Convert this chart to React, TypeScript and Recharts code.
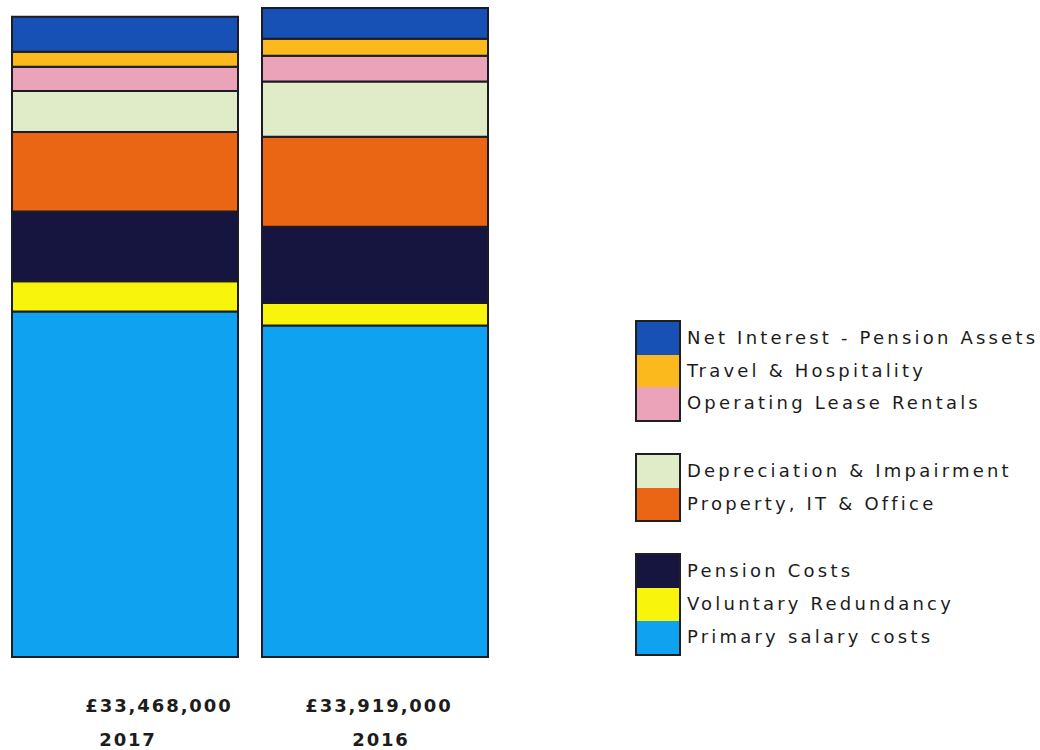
import { BarChart, Bar, XAxis, YAxis } from 'recharts'

// values in £000s
const years = ['2017', '2016']
const totals = ['£33,468,000', '£33,919,000']

const primarySalary = [18060, 17330]
const voluntaryRedundancy = [1580, 1170]
const pensionCosts = [3645, 3980]
const propertyItOffice = [4155, 4715]
const depreciation = [2145, 2880]
const operatingLease = [1270, 1345]
const travelHospitality = [780, 890]
const netInterest = [1833, 1609]

const SERIES = [
  { key: 'salary', name: 'Primary salary costs', color: '#0ea2f0', values: primarySalary },
  { key: 'redundancy', name: 'Voluntary Redundancy', color: '#f8f40c', values: voluntaryRedundancy },
  { key: 'pension', name: 'Pension Costs', color: '#16153f', values: pensionCosts },
  { key: 'property', name: 'Property, IT & Office', color: '#ea6614', values: propertyItOffice },
  { key: 'depreciation', name: 'Depreciation & Impairment', color: '#e0ebc8', values: depreciation },
  { key: 'lease', name: 'Operating Lease Rentals', color: '#eba3ba', values: operatingLease },
  { key: 'travel', name: 'Travel & Hospitality', color: '#fbb91e', values: travelHospitality },
  { key: 'interest', name: 'Net Interest - Pension Assets', color: '#1751b6', values: netInterest },
]

// legend groups, top to bottom
const LEGEND_GROUPS = [
  ['interest', 'travel', 'lease'],
  ['depreciation', 'property'],
  ['pension', 'redundancy', 'salary'],
]

const data = years.map((year, i) => {
  const row: Record<string, string | number> = { year, total: totals[i] }
  SERIES.forEach(s => {
    row[s.key] = s.values[i]
  })
  return row
})

const FONT = '"DejaVu Sans", Verdana, sans-serif'

function YearTick(props: any) {
  const { x, y, payload, index } = props
  const amountDx = [34, 4][index] ?? 0
  const yearDx = [3, 6][index] ?? 0
  return (
    <g>
      <text
        x={x + amountDx}
        y={y + 46.5}
        textAnchor="middle"
        fontFamily={FONT}
        fontWeight={700}
        fontSize={18}
        letterSpacing={1.9}
        fill="#1c1c1c"
      >
        {totals[index]}
      </text>
      <text
        x={x + yearDx}
        y={y + 80.5}
        textAnchor="middle"
        fontFamily={FONT}
        fontWeight={700}
        fontSize={18}
        letterSpacing={1.8}
        fill="#1c1c1c"
      >
        {payload.value}
      </text>
    </g>
  )
}

function GroupedLegend() {
  const byKey = Object.fromEntries(SERIES.map(s => [s.key, s]))
  return (
    <div style={{ display: 'flex', flexDirection: 'column', gap: 31 }}>
      {LEGEND_GROUPS.map((group, gi) => (
        <div key={gi} style={{ display: 'flex', alignItems: 'stretch' }}>
          <div style={{ border: '2px solid #1f1f1f', width: 42, display: 'flex', flexDirection: 'column' }}>
            {group.map(k => (
              <div key={k} style={{ height: 32.7, background: byKey[k].color }} />
            ))}
          </div>
          <div style={{ display: 'flex', flexDirection: 'column', marginLeft: 6, paddingTop: 2 }}>
            {group.map(k => (
              <div
                key={k}
                style={{
                  height: 32.7,
                  lineHeight: '32.7px',
                  fontFamily: FONT,
                  fontSize: 18,
                  letterSpacing: 3.2,
                  color: '#1c1c1c',
                  whiteSpace: 'nowrap',
                }}
              >
                {byKey[k].name}
              </div>
            ))}
          </div>
        </div>
      ))}
    </div>
  )
}

export default function App() {
  return (
    <div style={{ position: 'absolute', left: 0, top: 0, width: 1040, height: 750, background: '#fff' }}>
      <BarChart
        width={1040}
        height={750}
        data={data}
        margin={{ top: 8, right: 540, bottom: 4, left: 0 }}
        barSize={226}
      >
        <XAxis
          dataKey="year"
          axisLine={false}
          tickLine={false}
          height={89}
          interval={0}
          tick={<YearTick />}
        />
        <YAxis hide domain={[0, 33919]} />
        {SERIES.map(s => (
          <Bar
            key={s.key}
            dataKey={s.key}
            name={s.name}
            stackId="cost"
            fill={s.color}
            stroke="#1d1b24"
            strokeWidth={2}
            isAnimationActive={false}
          />
        ))}
      </BarChart>
      <div style={{ position: 'absolute', left: 635, top: 320, width: 405 }}>
        <GroupedLegend />
      </div>
    </div>
  )
}
